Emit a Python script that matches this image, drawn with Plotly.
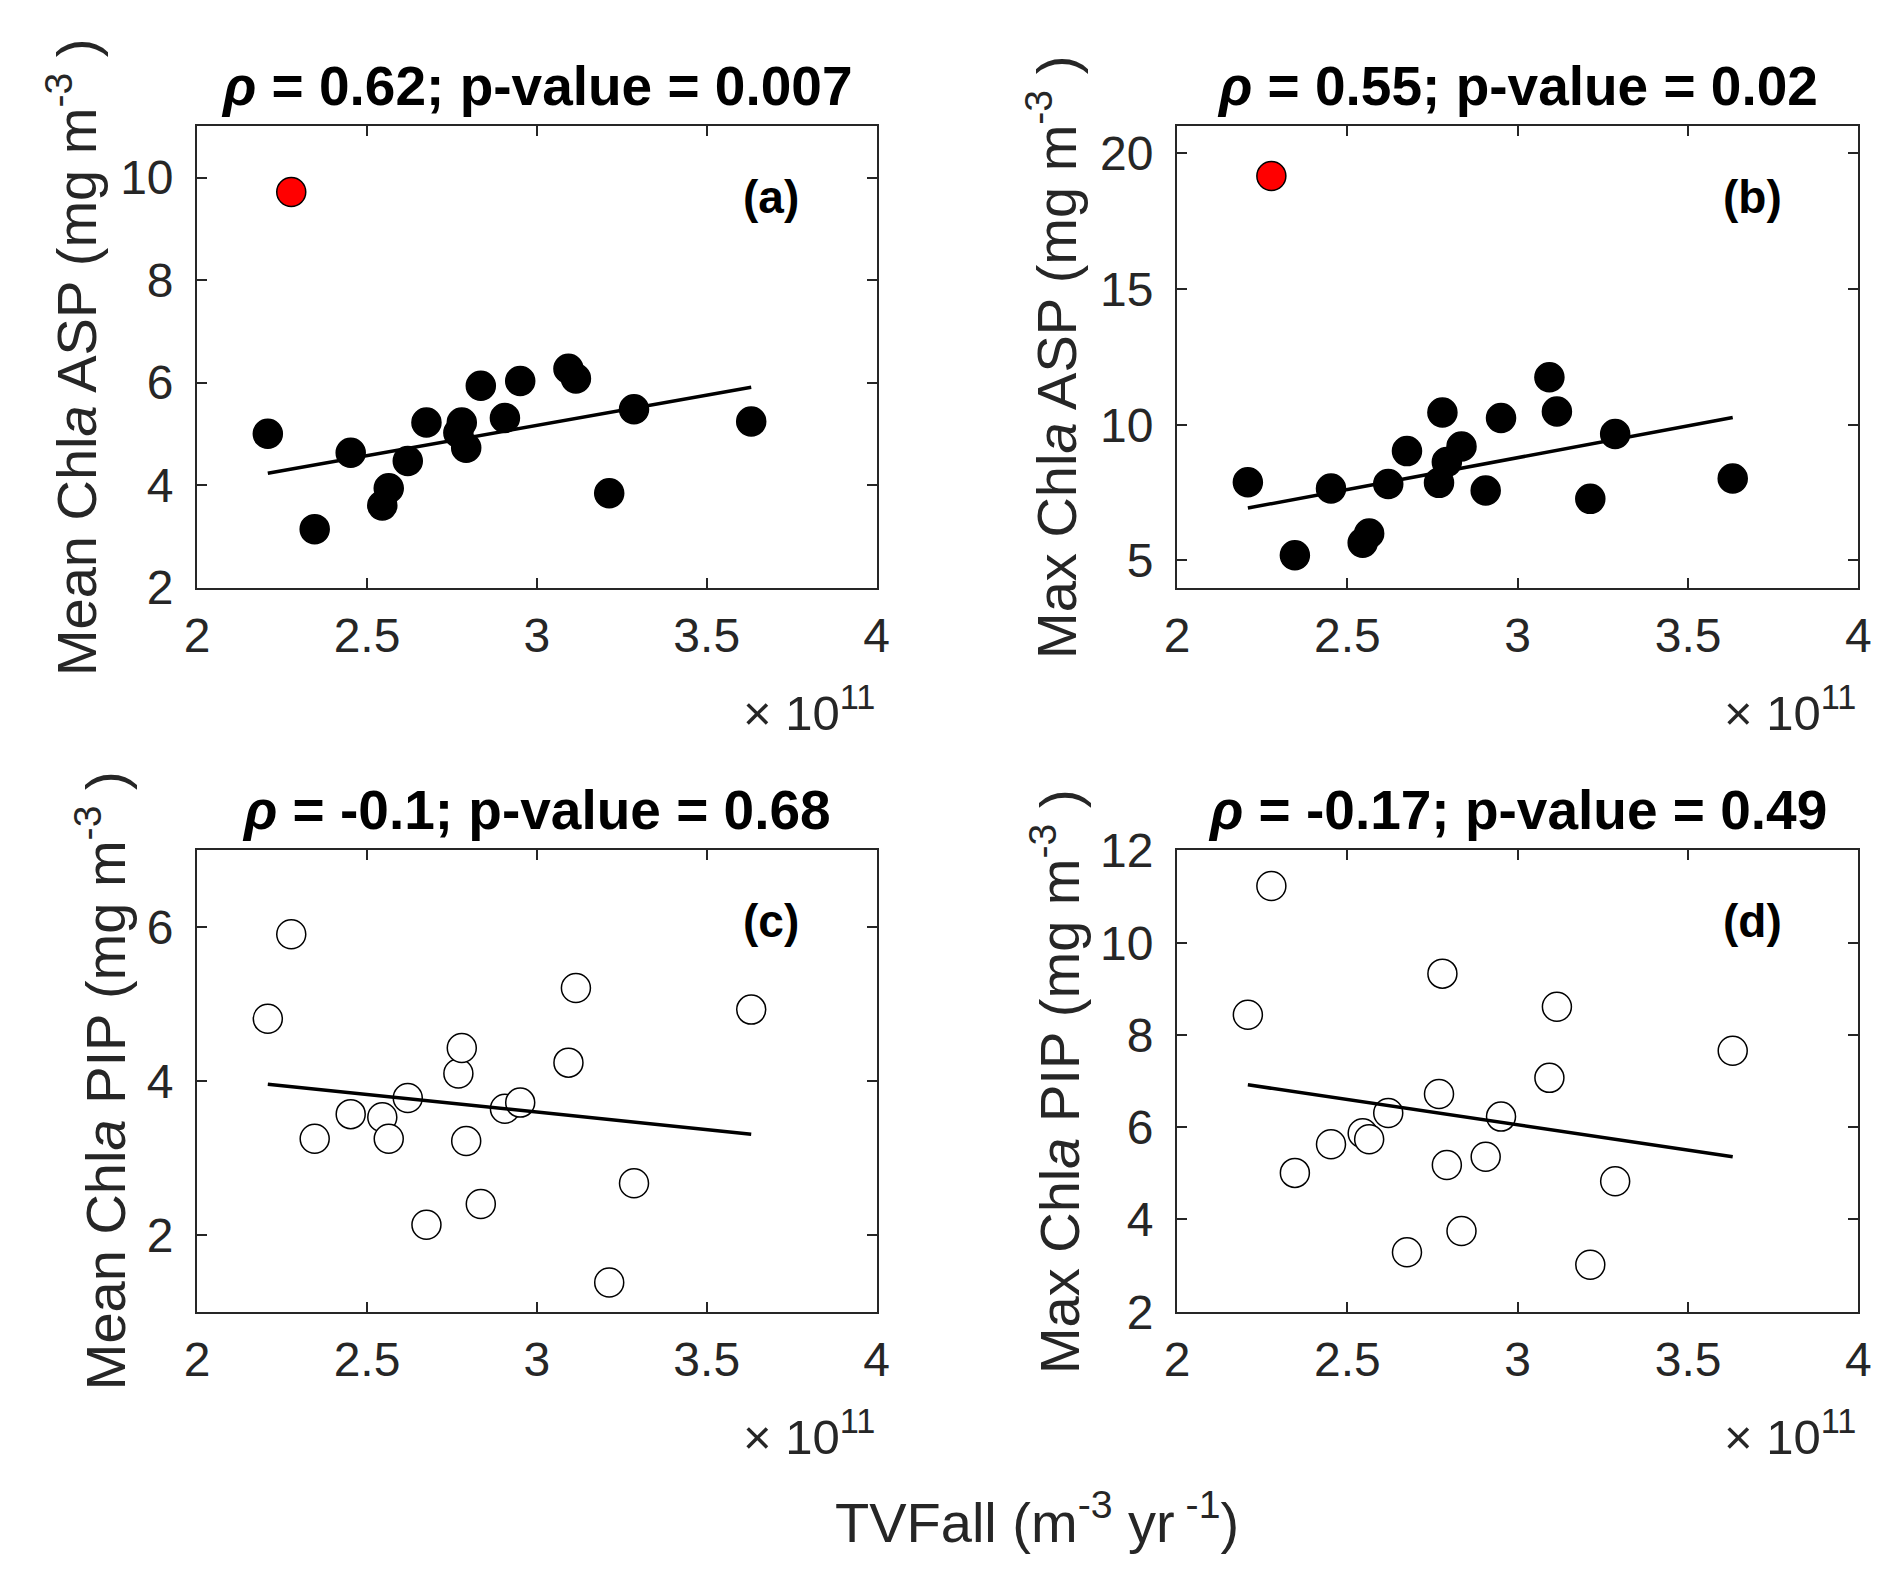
import plotly.graph_objects as go

# TVFall values, in units of 1e11 m^-3 yr^-1
tvfall = [2.277, 2.208, 2.346, 2.452, 2.545, 2.564, 2.620, 2.675, 2.769, 2.779,
          2.792, 2.835, 2.906, 2.951, 3.093, 3.115, 3.213, 3.286, 3.631]

mean_asp = [9.72, 5.00, 3.14, 4.63, 3.60, 3.94, 4.47, 5.22, 5.02, 5.22,
            4.73, 5.94, 5.31, 6.03, 6.27, 6.08, 3.84, 5.48, 5.24]
max_asp = [19.17, 7.88, 5.19, 7.65, 5.65, 5.99, 7.82, 9.03, 7.86, 10.45,
           8.63, 9.20, 7.58, 10.25, 11.75, 10.49, 7.27, 9.66, 8.02]
mean_pip = [5.91, 4.81, 3.25, 3.57, 3.53, 3.25, 3.78, 2.13, 4.10, 4.43,
            3.22, 2.40, 3.64, 3.72, 4.24, 5.21, 1.38, 2.67, 4.93]
max_pip = [11.23, 8.44, 5.01, 5.63, 5.87, 5.74, 6.31, 3.29, 6.72, 9.33,
           5.18, 3.75, 5.36, 6.23, 7.07, 8.61, 3.02, 4.83, 7.66]

# regression line end points
fit_x = [2.208, 3.631]
fit_mean_asp = [4.23, 5.91]
fit_max_asp = [6.93, 10.27]
fit_mean_pip = [3.96, 3.31]
fit_max_pip = [6.92, 5.36]

titles = ["<b><i>ρ</i> = 0.62; p-value = 0.007</b>",
          "<b><i>ρ</i> = 0.55; p-value = 0.02</b>",
          "<b><i>ρ</i> = -0.1; p-value = 0.68</b>",
          "<b><i>ρ</i> = -0.17; p-value = 0.49</b>"]
panel_labels = ["(a)", "(b)", "(c)", "(d)"]
ylabels = ["Mean Chl<i>a</i> ASP (mg m<sup>-3</sup> )",
           "Max Chl<i>a</i> ASP (mg m<sup>-3</sup> )",
           "Mean Chl<i>a</i> PIP (mg m<sup>-3</sup> )",
           "Max Chl<i>a</i> PIP (mg m<sup>-3</sup> )"]
yranges = [[2, 11], [4, 21], [1, 7], [2, 12]]
ytickvals = [[2, 4, 6, 8, 10], [5, 10, 15, 20], [2, 4, 6], [2, 4, 6, 8, 10, 12]]
xtickvals = [2, 2.5, 3, 3.5, 4]
xticktext = ["2", "2.5", "3", "3.5", "4"]

FONT = "Liberation Sans, Arial, sans-serif"
GREY = "#262626"

xdomains = [[0.0944, 0.4585], [0.6195, 0.9847]]
ydomains = [[0.6410, 0.9401], [0.1714, 0.4705]]
ytitle_off = [124, 124, 96, 121]

fig = go.Figure()

series = [mean_asp, max_asp, mean_pip, max_pip]
fits = [fit_mean_asp, fit_max_asp, fit_mean_pip, fit_max_pip]

for i in range(4):
    n = str(i + 1) if i > 0 else ""
    xa, ya = "x" + n, "y" + n
    if i < 2:
        fill = ["red"] + ["black"] * (len(tvfall) - 1)
    else:
        fill = ["white"] * len(tvfall)
    fig.add_trace(go.Scatter(x=tvfall, y=series[i], mode="markers", xaxis=xa, yaxis=ya,
                             marker=dict(size=29, color=fill,
                                         line=dict(color="black", width=1.5)),
                             showlegend=False))
    fig.add_trace(go.Scatter(x=fit_x, y=fits[i], mode="lines", xaxis=xa, yaxis=ya,
                             line=dict(color="black", width=3.5), showlegend=False))

    axis_common = dict(showgrid=False, zeroline=False, showline=True, linecolor=GREY,
                       linewidth=2, mirror="ticks", ticks="inside", ticklen=10,
                       tickwidth=2, tickcolor=GREY,
                       tickfont=dict(family=FONT, size=48, color=GREY))
    fig.update_layout({
        "xaxis" + n: dict(axis_common, domain=xdomains[i % 2], range=[2, 4],
                          tickvals=xtickvals, ticktext=xticktext, anchor=ya,
                          ticklabelstandoff=5),
        "yaxis" + n: dict(axis_common, domain=ydomains[i // 2], range=yranges[i],
                          tickvals=ytickvals[i], anchor=xa, ticklabelstandoff=12),
    })

    # subplot title
    fig.add_annotation(text=titles[i], xref=xa + " domain", yref=ya + " domain",
                       x=0.5, y=1, xanchor="center", yanchor="bottom", yshift=7,
                       showarrow=False, font=dict(family=FONT, size=55, color="black"))
    # panel letter
    fig.add_annotation(text="<b>" + panel_labels[i] + "</b>", xref=xa + " domain",
                       yref=ya + " domain", x=0.844, y=0.847, xanchor="center",
                       yanchor="middle", showarrow=False,
                       font=dict(family=FONT, size=46, color="black"))
    # exponent label
    fig.add_annotation(text="× 10<sup>11</sup>", xref=xa + " domain", yref=ya + " domain",
                       x=1, y=0, xanchor="right", yanchor="top", yshift=-88,
                       showarrow=False, font=dict(family=FONT, size=49, color=GREY))
    # y axis title
    fig.add_annotation(text=ylabels[i], xref=xa + " domain", yref=ya + " domain",
                       x=0, y=0.5, xshift=-ytitle_off[i], xanchor="center",
                       yanchor="middle", textangle=-90, showarrow=False,
                       font=dict(family=FONT, size=56, color=GREY))

fig.add_annotation(text="TVFall (m<sup>-3</sup> yr<sup> -1</sup>)", xref="paper", yref="paper",
                   x=0.5445, y=0.0376, xanchor="center", yanchor="middle", showarrow=False,
                   font=dict(family=FONT, size=56, color=GREY))

fig.update_layout(width=1892, height=1595, margin=dict(l=0, r=0, t=0, b=0),
                  plot_bgcolor="white", paper_bgcolor="white")

fig.write_html("out.html")
